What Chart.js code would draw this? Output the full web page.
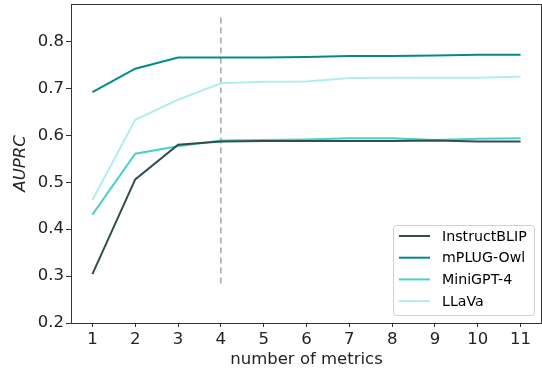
<!DOCTYPE html>
<html>
<head>
<meta charset="utf-8">
<script src="https://cdn.jsdelivr.net/npm/chart.js@4"></script>
<style>
  html, body { margin: 0; padding: 0; background: #fff; }
  #wrap { width: 542px; height: 372px; position: relative; }
</style>
</head>
<body>
<div id="wrap"><canvas id="chart"></canvas></div>
<script>
// values
const metricsCount = [1, 2, 3, 4, 5, 6, 7, 8, 9, 10, 11];
const modelNames = ['InstructBLIP', 'mPLUG-Owl', 'MiniGPT-4', 'LLaVa'];
const instructBlip = [0.304, 0.506, 0.580, 0.587, 0.588, 0.588, 0.588, 0.588, 0.589, 0.587, 0.587];
const mplugOwl = [0.692, 0.742, 0.766, 0.766, 0.766, 0.767, 0.769, 0.769, 0.770, 0.772, 0.772];
const miniGpt4 = [0.431, 0.561, 0.577, 0.589, 0.590, 0.591, 0.594, 0.594, 0.590, 0.593, 0.594];
const llava = [0.462, 0.633, 0.676, 0.711, 0.714, 0.715, 0.722, 0.723, 0.723, 0.723, 0.725];
const cutoffX = 4;
const cutoffY = [0.851, 0.281];
const yTicks = [0.2, 0.3, 0.4, 0.5, 0.6, 0.7, 0.8];

const colors = ['#2f4f4f', '#008b8b', '#48d1cc', '#afeeee'];
const font = { family: 'DejaVu Sans', size: 16.5 };
const legendFontSize = 14.2;

function toPoints(vals) {
	return metricsCount.map((x, i) => ({ x: x, y: vals[i] }));
}

const seriesList = [instructBlip, mplugOwl, miniGpt4, llava];
const datasets = seriesList.map((vals, i) => ({
	label: modelNames[i],
	data: toPoints(vals),
	borderColor: colors[i],
	backgroundColor: colors[i],
	borderWidth: 2,
	pointRadius: 0,
	tension: 0
}));
// grey dashed marker at 4 metrics
datasets.push({
	label: 'cutoff',
	data: [{ x: cutoffX, y: cutoffY[0] }, { x: cutoffX, y: cutoffY[1] }],
	borderColor: '#aaaaaa',
	borderWidth: 1.6,
	borderDash: [6, 4],
	pointRadius: 0
});

// box around the plot plus a legend drawn in the lower right corner
const framePlugin = {
	id: 'frame',
	afterDatasetsDraw(chart) {
		const ctx = chart.ctx;
		const a = chart.chartArea;
		ctx.save();
		ctx.strokeStyle = '#333';
		ctx.lineWidth = 1;
		ctx.strokeRect(a.left + 0.5, a.top + 0.5, a.right - a.left - 1, a.bottom - a.top);

		// legend
		const bx = 393, by = 225, bw = 141, bh = 90;
		ctx.fillStyle = 'rgba(255,255,255,0.8)';
		ctx.strokeStyle = '#d0d0d0';
		ctx.beginPath();
		ctx.roundRect(bx + 0.5, by + 0.5, bw, bh, 3);
		ctx.fill();
		ctx.stroke();
		ctx.font = legendFontSize + 'px ' + font.family;
		ctx.textBaseline = 'middle';
		for (let i = 0; i < modelNames.length; i++) {
			const yy = by + 11 + i * 21.7;
			ctx.strokeStyle = colors[i];
			ctx.lineWidth = 2;
			ctx.beginPath();
			ctx.moveTo(399, yy);
			ctx.lineTo(430, yy);
			ctx.stroke();
			ctx.fillStyle = '#000';
			ctx.fillText(modelNames[i], 442, yy + 1);
		}
		ctx.restore();
	}
};

function noEdgePadding(scale) {
	scale.paddingTop = 0;
	scale.paddingBottom = 0;
	scale.paddingLeft = 0;
	scale.paddingRight = 0;
}

new Chart(document.getElementById('chart'), {
	type: 'line',
	data: { datasets: datasets },
	options: {
		responsive: true,
		maintainAspectRatio: false,
		animation: false,
		layout: { padding: { top: 4, right: 0, bottom: 0, left: 0 } },
		plugins: {
			legend: { display: false },
			tooltip: { enabled: false }
		},
		scales: {
			x: {
				type: 'linear',
				min: 0.5,
				max: 11.5,
				afterBuildTicks: (scale) => { scale.ticks = metricsCount.map(v => ({ value: v })); },
				afterFit: (scale) => { scale.height = 49; noEdgePadding(scale); },
				grid: { display: true, drawOnChartArea: false, drawTicks: true, tickLength: 4, color: '#333' },
				border: { display: false },
				ticks: { font: font, color: '#222', padding: 3, maxRotation: 0 },
				title: { display: true, text: 'number of metrics', font: font, color: '#222', padding: { top: 0, bottom: 2 } }
			},
			y: {
				min: 0.2,
				max: 0.88,
				afterBuildTicks: (scale) => { scale.ticks = yTicks.map(v => ({ value: v })); },
				afterFit: (scale) => { scale.width = 71; noEdgePadding(scale); },
				grid: { display: true, drawOnChartArea: false, drawTicks: true, tickLength: 5, color: '#333' },
				border: { display: false },
				ticks: { font: font, color: '#222', padding: 2, callback: (v) => v.toFixed(1) },
				title: { display: true, text: 'AUPRC', font: { family: 'DejaVu Sans', size: 16.5, style: 'italic' }, color: '#222', padding: { top: 11, bottom: 0 } }
			}
		}
	},
	plugins: [framePlugin]
});
</script>
</body>
</html>
